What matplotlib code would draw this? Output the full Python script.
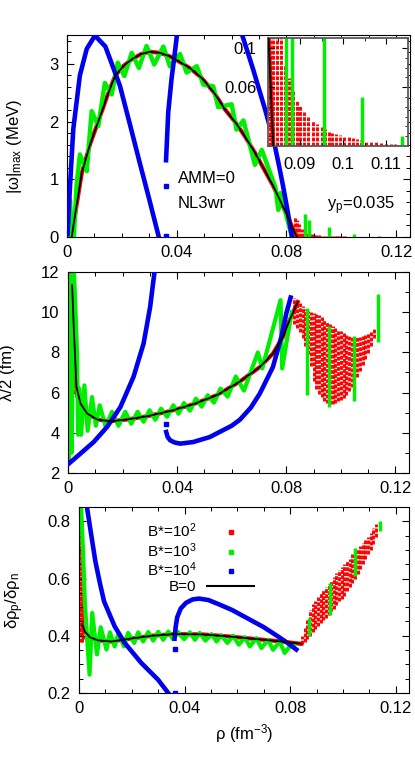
import matplotlib
matplotlib.use("Agg")
import matplotlib.pyplot as plt
from matplotlib.lines import Line2D
from matplotlib.ticker import MultipleLocator

plt.rcParams['font.family'] = ['Liberation Sans', 'DejaVu Sans']
plt.rcParams['mathtext.fontset'] = 'custom'
plt.rcParams['mathtext.rm'] = 'Liberation Sans'
plt.rcParams['mathtext.it'] = 'Liberation Sans'
plt.rcParams['mathtext.bf'] = 'Liberation Sans:bold'
plt.rcParams['font.size'] = 12

RED = '#ff0000'
GREEN = '#00ee00'
BLUE = '#0000ee'

# ---------------- panel 1 : |omega|_max (MeV) ----------------
b0_rho_1 = [0.0017, 0.0023, 0.0035, 0.0054, 0.0085, 0.0114, 0.0145, 0.0175, 0.0205, 0.0236,
            0.0270, 0.0302, 0.0340, 0.0375, 0.0412, 0.0450, 0.0490, 0.0533, 0.0576, 0.0615,
            0.0649, 0.0690, 0.0722, 0.0750, 0.0776, 0.0800, 0.0820, 0.0838]
b0_w = [0.0, 0.18, 0.55, 1.11, 1.62, 2.00, 2.42, 2.79, 2.96, 3.08,
        3.17, 3.21, 3.19, 3.13, 3.03, 2.92, 2.76, 2.52, 2.21, 1.98,
        1.74, 1.42, 1.14, 0.90, 0.64, 0.40, 0.18, 0.0]

g1_rho = [0.0004, 0.0011, 0.0018, 0.0025, 0.0035, 0.0047, 0.0072, 0.0090, 0.0114, 0.0138,
          0.0163, 0.0185, 0.0209, 0.0236, 0.0262, 0.0290, 0.0318, 0.0351, 0.0375, 0.0412,
          0.0436, 0.0473, 0.0497, 0.0533, 0.0551, 0.0600, 0.0618, 0.0643, 0.0685, 0.0710,
          0.0760, 0.0770, 0.0778, 0.0820]
g1_w = [0.0, 0.64, 0.0, 0.0, 0.9, 1.43, 1.14, 2.18, 1.92, 2.67,
        2.47, 3.02, 2.79, 3.19, 2.93, 3.31, 2.99, 3.30, 2.96, 3.17,
        2.85, 2.96, 2.64, 2.61, 2.25, 2.30, 1.86, 2.02, 1.25, 1.51,
        0.85, 0.47, 0.76, 0.0]
g1_spike_rho = [0.0867, 0.0882, 0.0955, 0.1045, 0.1137]
g1_spike_top = [0.40, 0.30, 0.17, 0.05, 0.01]

bl1a_rho = [0.0002, 0.0011, 0.0023, 0.0047, 0.0072, 0.0102, 0.0140, 0.0193, 0.0230, 0.0266, 0.0300, 0.0333]
bl1a_w = [0.05, 0.88, 1.87, 2.80, 3.26, 3.49, 3.30, 2.62, 1.94, 1.27, 0.65, 0.03]
bl1b_rho = [0.0361, 0.0369, 0.0381, 0.0392, 0.0402]
bl1b_w = [1.33, 2.16, 2.74, 3.15, 3.55]
bl1c_rho = [0.0635, 0.0660, 0.0680, 0.0700, 0.0722, 0.0740, 0.0758, 0.0773, 0.0788, 0.0804, 0.0820]
bl1c_w = [3.55, 3.18, 2.88, 2.56, 2.21, 1.90, 1.57, 1.23, 0.87, 0.45, 0.0]
bl1_iso_rho = [0.0361, 0.0361]
bl1_iso_w = [0.89, 0.02]

r1_rho = [0.0005, 0.0010, 0.0015,
          0.0830, 0.0838, 0.0846, 0.0855, 0.0865, 0.0874, 0.0883, 0.0892, 0.0900, 0.0909,
          0.0919, 0.0930, 0.0940, 0.0950, 0.0958, 0.0967, 0.0975, 0.0984, 0.0993, 0.1003,
          0.1013, 0.1023, 0.1032, 0.1042, 0.1053, 0.1065, 0.1076, 0.1088, 0.1100, 0.1111,
          0.1120, 0.1128]
r1_top = [0.35, 0.25, 0.10,
          0.35, 0.30, 0.22, 0.14, 0.082, 0.069, 0.057, 0.046, 0.041, 0.035,
          0.030, 0.025, 0.022, 0.019, 0.017, 0.015, 0.0135, 0.012, 0.011, 0.0098,
          0.0088, 0.0079, 0.0068, 0.0058, 0.0051, 0.0044, 0.0036, 0.0028, 0.0022, 0.0018,
          0.0015, 0.0012]

# ---------------- panel 2 : lambda/2 (fm) ----------------
b0_rho_2 = [0.0015, 0.0021, 0.0031, 0.0046, 0.0070, 0.0107, 0.0155, 0.0216, 0.0289,
            0.0374, 0.0459, 0.0545, 0.0630, 0.0703, 0.0751, 0.0788, 0.0812, 0.0842]
b0_lam = [11.34, 9.26, 6.28, 5.45, 4.96, 4.66, 4.57, 4.66, 4.82,
          5.08, 5.42, 5.87, 6.55, 7.27, 7.94, 8.77, 9.60, 10.51]

g2_rho = [0.0003, 0.0008, 0.0013, 0.0022, 0.0033, 0.0037, 0.0041, 0.0048, 0.0060, 0.0072,
          0.0088, 0.0102, 0.0116, 0.0138, 0.0161, 0.0185, 0.0210, 0.0232, 0.0255, 0.0277,
          0.0299, 0.0320, 0.0341, 0.0363, 0.0386, 0.0405, 0.0425, 0.0447, 0.0469, 0.0490,
          0.0512, 0.0535, 0.0559, 0.0585, 0.0615, 0.0645, 0.0696, 0.0712, 0.0779, 0.0785,
          0.0812, 0.0820]
g2_lam = [2.6, 12.0, 3.0, 12.0, 8.0, 3.9, 6.2, 3.9, 6.36, 4.1,
          5.78, 4.35, 5.37, 4.3, 5.04, 4.35, 5.04, 4.45, 5.04, 4.55,
          5.12, 4.65, 5.20, 4.8, 5.37, 4.95, 5.48, 5.1, 5.70, 5.3,
          5.87, 5.5, 6.20, 5.8, 6.8, 6.1, 8.0, 7.2, 10.6, 7.2,
          9.4, 10.0]
g2_bar_rho = [0.0875, 0.0955, 0.1047, 0.1138]
g2_bar_top = [10.2, 9.3, 8.8, 10.9]
g2_bar_bot = [5.9, 5.3, 5.6, 8.5]

bl2a_rho = [0.0, 0.0046, 0.0094, 0.0143, 0.0192, 0.0240, 0.0277, 0.0301, 0.0317]
bl2a_lam = [2.43, 2.97, 3.54, 4.29, 5.28, 6.78, 8.44, 10.26, 12.0]
bl2b_rho = [0.0360, 0.0365, 0.0374, 0.0390, 0.0411, 0.0459, 0.0520, 0.0557, 0.0600, 0.0630,
            0.0670, 0.0703, 0.0751, 0.0782, 0.0800, 0.0816]
bl2b_lam = [4.04, 3.80, 3.63, 3.52, 3.46, 3.54, 3.79, 4.05, 4.35, 4.65,
            5.25, 5.95, 7.27, 8.77, 9.93, 10.73]
bl2_iso_rho = [0.0360]
bl2_iso_lam = [4.42]

r2_rho = [0.0004, 0.0008, 0.0012, 0.0016, 0.0020, 0.0024, 0.0028,
          0.083, 0.084, 0.085, 0.086, 0.087, 0.088, 0.089, 0.090, 0.091, 0.092,
          0.093, 0.094, 0.095, 0.096, 0.097, 0.098, 0.099, 0.100, 0.101, 0.102,
          0.103, 0.104, 0.105, 0.106, 0.107, 0.108, 0.109, 0.110, 0.111, 0.112]
r2_top = [9.5, 12.0, 12.0, 12.0, 10.5, 8.0, 7.0,
          10.7, 10.6, 10.45, 10.3, 10.15, 10.05, 10.0, 9.95, 9.9, 9.85,
          9.75, 9.6, 9.5, 9.4, 9.3, 9.2, 9.1, 9.05, 9.0, 8.9,
          8.85, 8.8, 8.8, 8.75, 8.75, 8.8, 8.85, 8.95, 9.05, 9.15]
r2_bot = [2.7, 3.0, 3.5, 5.0, 6.0, 6.0, 5.8,
          9.4, 9.2, 9.0, 8.7, 8.3, 7.9, 7.3, 6.6, 6.2, 5.95,
          5.8, 5.6, 5.5, 5.45, 5.45, 5.5, 5.6, 5.65, 5.75, 5.9,
          6.1, 6.3, 6.55, 6.8, 7.05, 7.35, 7.65, 7.95, 8.3, 8.7]

# ---------------- panel 3 : delta rho_p / delta rho_n ----------------
b0_rho_3 = [0.0012, 0.0022, 0.0041, 0.0072, 0.0123, 0.0186, 0.0274, 0.0362, 0.0464,
            0.0564, 0.0666, 0.0767, 0.0842]
b0_ratio = [0.44, 0.415, 0.395, 0.384, 0.380, 0.389, 0.400, 0.406, 0.405,
            0.398, 0.389, 0.380, 0.372]

g3_rho = [0.0008, 0.0015, 0.0022, 0.0030, 0.0040, 0.0050, 0.0068, 0.0082, 0.0104, 0.0117,
          0.0135, 0.0150, 0.0170, 0.0186, 0.0209, 0.0224, 0.0243, 0.0262, 0.0281, 0.0300,
          0.0319, 0.0338, 0.0356, 0.0375, 0.0398, 0.0420, 0.0439, 0.0457, 0.0479, 0.0502,
          0.0521, 0.0539, 0.0562, 0.0584, 0.0605, 0.0628, 0.0647, 0.0672, 0.0691, 0.0716,
          0.0735, 0.0760, 0.0779, 0.0800, 0.0815]
g3_ratio = [0.85, 0.70, 0.52, 0.40, 0.264, 0.48, 0.335, 0.43, 0.352, 0.412,
            0.363, 0.410, 0.363, 0.410, 0.375, 0.412, 0.380, 0.413, 0.383, 0.414,
            0.386, 0.415, 0.388, 0.413, 0.388, 0.412, 0.386, 0.410, 0.383, 0.406,
            0.380, 0.402, 0.375, 0.400, 0.369, 0.395, 0.363, 0.392, 0.357, 0.386,
            0.351, 0.380, 0.340, 0.365, 0.370]
g3_bar_rho = [0.0870, 0.0952, 0.1045, 0.1139]
g3_bar_top = [0.462, 0.585, 0.707, 0.802]
g3_bar_bot = [0.398, 0.474, 0.608, 0.765]

bl3a_rho = [0.0030, 0.0045, 0.0062, 0.0080, 0.0095, 0.0135, 0.0173, 0.0236, 0.0300, 0.0338]
bl3a_ratio = [0.85, 0.76, 0.66, 0.58, 0.52, 0.433, 0.375, 0.305, 0.246, 0.20]
bl3b_rho = [0.0362, 0.0366, 0.0372, 0.0385, 0.0405, 0.0430, 0.0455, 0.0490, 0.0530, 0.0580,
            0.0640, 0.0700, 0.0750, 0.0790, 0.0823]
bl3b_ratio = [0.39, 0.43, 0.465, 0.495, 0.515, 0.527, 0.530, 0.525, 0.51, 0.49,
              0.46, 0.43, 0.40, 0.375, 0.352]
bl3_iso_rho = [0.0362, 0.0362]
bl3_iso_ratio = [0.355, 0.20]

r3_rho = [0.0003, 0.0007, 0.0011, 0.0015,
          0.0835, 0.0845, 0.0855, 0.0865, 0.0875, 0.0885, 0.0895, 0.0905, 0.0915, 0.0925,
          0.0935, 0.0945, 0.0955, 0.0965, 0.0975, 0.0985, 0.0995, 0.1005, 0.1015, 0.1025,
          0.1035, 0.1045, 0.1055, 0.1065, 0.1075, 0.1085, 0.1095, 0.1105, 0.1115, 0.1125]
r3_top = [0.85, 0.85, 0.80, 0.55,
          0.38, 0.40, 0.43, 0.46, 0.49, 0.51, 0.52, 0.535, 0.55, 0.56,
          0.57, 0.58, 0.59, 0.605, 0.62, 0.63, 0.64, 0.65, 0.66, 0.67,
          0.685, 0.695, 0.705, 0.715, 0.725, 0.735, 0.745, 0.76, 0.775, 0.79]
r3_bot = [0.40, 0.38, 0.38, 0.39,
          0.368, 0.372, 0.38, 0.39, 0.40, 0.415, 0.425, 0.435, 0.445, 0.455,
          0.463, 0.474, 0.485, 0.495, 0.508, 0.52, 0.53, 0.54, 0.555, 0.57,
          0.585, 0.60, 0.615, 0.635, 0.65, 0.67, 0.685, 0.70, 0.72, 0.745]

DOTS = [(0, (1.3, 0.45))]


def style(ax, ymin, ymaj, ylabels=None):
    ax.set_xlim(0, 0.125)
    ax.set_xticks([0, 0.04, 0.08, 0.12], ['0', '0.04', '0.08', '0.12'])
    ax.xaxis.set_minor_locator(MultipleLocator(0.01))
    if ylabels is not None:
        ax.set_yticks(ymaj, ylabels)
    ax.yaxis.set_minor_locator(MultipleLocator(ymin))
    ax.tick_params(which='both', direction='in', top=True, right=True, labelsize=12, pad=6)
    ax.tick_params(which='major', length=5, width=0.8)
    ax.tick_params(which='minor', length=3, width=0.7)


def draw_panel1(ax):
    ax.vlines(r1_rho, 0, r1_top, colors=RED, linewidth=2.1, linestyles=DOTS, zorder=1)
    ax.plot(b0_rho_1, b0_w, color=RED, lw=3.0, zorder=1)
    ax.plot(g1_rho, g1_w, color=GREEN, lw=3.2, zorder=2)
    ax.vlines(g1_spike_rho, 0, g1_spike_top, colors=GREEN, linewidth=2.5, zorder=2)
    for xs, ys in [(bl1a_rho, bl1a_w), (bl1b_rho, bl1b_w), (bl1c_rho, bl1c_w)]:
        ax.plot(xs, ys, color=BLUE, lw=3.3, zorder=3)
    ax.plot(bl1_iso_rho, bl1_iso_w, 's', color=BLUE, ms=2.5, zorder=3)
    ax.plot(b0_rho_1, b0_w, color='black', lw=1.3, zorder=4)


fig = plt.figure(figsize=(4.15, 7.63), dpi=100)

# panel 1
ax1 = fig.add_axes([0.1614, 0.6894, 0.8265, 0.2647])
draw_panel1(ax1)
ax1.set_ylim(0, 3.5)
style(ax1, 0.2, [0, 1, 2, 3], ['0', '1', '2', '3'])
ax1.set_ylabel(r'$\mathrm{|\omega|_{max}}$ (MeV)', fontsize=12)
ax1.yaxis.set_label_coords(-0.125, 0.45)
ax1.text(0.323, 0.291, 'AMM=0', transform=ax1.transAxes, fontsize=12, va='center')
ax1.text(0.323, 0.167, 'NL3wr', transform=ax1.transAxes, fontsize=12, va='center')
ax1.text(0.757, 0.153, r'$\mathrm{y_p}$=0.035', transform=ax1.transAxes, fontsize=12, va='center')

# inset
axi = fig.add_axes([0.645, 0.8087, 0.3373, 0.1412])
axi.set_facecolor('white')
draw_panel1(axi)
axi.set_xlim(0.0825, 0.115)
axi.set_ylim(0, 0.11)
axi.set_xticks([0.09, 0.1, 0.11], ['0.09', '0.1', '0.11'])
axi.set_yticks([0.06, 0.1], ['0.06', '0.1'])
axi.xaxis.set_minor_locator(MultipleLocator(0.005))
axi.yaxis.set_minor_locator(MultipleLocator(0.01))
axi.tick_params(which='both', direction='in', top=True, right=True, labelsize=12, pad=8)
axi.tick_params(which='major', length=4)
axi.tick_params(which='minor', length=2.5)
for sp in axi.spines.values():
    sp.set_color('0.35')
    sp.set_linewidth(1.3)

# panel 2
ax2 = fig.add_axes([0.1639, 0.3801, 0.8217, 0.2634])
ax2.vlines(r2_rho, r2_bot, r2_top, colors=RED, linewidth=2.1, linestyles=DOTS, zorder=1)
ax2.plot(b0_rho_2, b0_lam, color=RED, lw=3.0, zorder=1)
ax2.plot(g2_rho, g2_lam, color=GREEN, lw=3.0, zorder=2)
ax2.vlines(g2_bar_rho, g2_bar_bot, g2_bar_top, colors=GREEN, linewidth=2.5, zorder=2)
ax2.plot(bl2a_rho, bl2a_lam, color=BLUE, lw=3.3, zorder=3)
ax2.plot(bl2b_rho, bl2b_lam, color=BLUE, lw=3.3, zorder=3)
ax2.plot(bl2_iso_rho, bl2_iso_lam, 's', color=BLUE, ms=2.5, zorder=3)
ax2.plot(b0_rho_2, b0_lam, color='black', lw=1.3, zorder=4)
ax2.set_ylim(2, 12)
style(ax2, 1, [2, 4, 6, 8, 10, 12], ['2', '4', '6', '8', '10', '12'])
ax2.set_ylabel('λ/2 (fm)', fontsize=12)
ax2.yaxis.set_label_coords(-0.155, 0.5)

# panel 3
ax3 = fig.add_axes([0.1904, 0.0917, 0.7952, 0.2438])
ax3.vlines(r3_rho, r3_bot, r3_top, colors=RED, linewidth=2.1, linestyles=DOTS, zorder=1)
ax3.plot(b0_rho_3, b0_ratio, color=RED, lw=3.0, zorder=1)
ax3.plot(g3_rho, g3_ratio, color=GREEN, lw=3.0, zorder=2)
ax3.vlines(g3_bar_rho, g3_bar_bot, g3_bar_top, colors=GREEN, linewidth=2.5, zorder=2)
ax3.plot(bl3a_rho, bl3a_ratio, color=BLUE, lw=3.3, zorder=3)
ax3.plot(bl3b_rho, bl3b_ratio, color=BLUE, lw=3.3, zorder=3)
ax3.plot(bl3_iso_rho, bl3_iso_ratio, 's', color=BLUE, ms=2.5, zorder=3)
ax3.plot(b0_rho_3, b0_ratio, color='black', lw=1.3, zorder=4)
ax3.set_ylim(0.2, 0.85)
style(ax3, 0.05, [0.2, 0.4, 0.6, 0.8], ['0.2', '0.4', '0.6', '0.8'])
ax3.set_ylabel(r'$\mathrm{\delta\rho_p/\delta\rho_n}$', fontsize=12)
ax3.yaxis.set_label_coords(-0.16, 0.5)
ax3.set_xlabel(r'ρ (fm$^{-3}$)', fontsize=12)

handles = [Line2D([], [], color=RED, marker='s', ms=2.2, ls='none'),
           Line2D([], [], color=GREEN, marker='s', ms=2.2, ls='none'),
           Line2D([], [], color=BLUE, marker='s', ms=2.2, ls='none'),
           Line2D([], [], color='black', lw=1.5)]
labels = [r'B*=10$^2$', r'B*=10$^3$', r'B*=10$^4$', 'B=0']
ax3.legend(handles, labels, loc='upper left', bbox_to_anchor=(0.205, 0.92), frameon=False,
           markerfirst=False, handlelength=3.1, handletextpad=0.7, labelspacing=0.05,
           borderpad=0, borderaxespad=0, fontsize=11)

fig.savefig('out.png', dpi=100)
